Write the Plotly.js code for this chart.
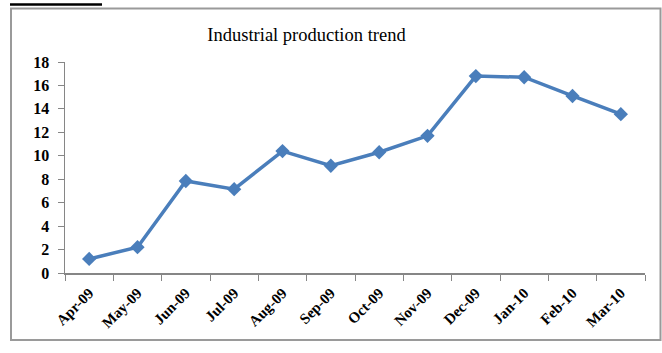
<!DOCTYPE html>
<html>
<head>
<meta charset="utf-8">
<script src="https://cdn.plot.ly/plotly-3.0.1.min.js"></script>
<style>html,body{margin:0;padding:0;background:#fff;}#chart{width:662px;height:353px;}</style>
</head>
<body>
<div id="chart"></div>
<script>
const months = ["Apr-09","May-09","Jun-09","Jul-09","Aug-09","Sep-09","Oct-09","Nov-09","Dec-09","Jan-10","Feb-10","Mar-10"];
const production = [1.2, 2.2, 7.85, 7.15, 10.4, 9.15, 10.3, 11.7, 16.8, 16.7, 15.1, 13.55];
const yTicks = [0, 2, 4, 6, 8, 10, 12, 14, 16, 18];

const W = 662, H = 353;
const L = 65, R = 17, T = 62, B = 80;
const pw = W - L - R, ph = H - T - B;
const px = x => (x - L) / pw;
const py = y => (H - B - y) / ph;

const SERIF = "Liberation Serif, Times New Roman, serif";

const trace = {
  x: months,
  y: production,
  type: "scatter",
  mode: "lines+markers",
  line: {color: "#4A7EBB", width: 3.5},
  marker: {symbol: "diamond", size: 11, color: "#4A7EBB"},
  hoverinfo: "skip"
};

const layout = {
  width: W, height: H,
  margin: {l: L, r: R, t: T, b: B, pad: 0},
  paper_bgcolor: "#fff",
  plot_bgcolor: "#fff",
  showlegend: false,
  font: {family: SERIF},
  title: {
    text: "Industrial production trend",
    font: {family: SERIF, size: 18.5, color: "#000"},
    xref: "paper", x: px(306.5), xanchor: "center",
    yref: "container", y: 1 - 35 / H, yanchor: "middle"
  },
  xaxis: {
    type: "category",
    tickson: "boundaries",
    ticks: "outside", ticklen: 6, tickcolor: "#868686", tickwidth: 1,
    showline: true, linecolor: "#868686", linewidth: 1.5,
    showgrid: false, zeroline: false,
    tickangle: -45,
    tickfont: {family: SERIF, size: 15, color: "#000", weight: "bold"},
    ticklabelstandoff: 4,
    range: [-0.5, months.length - 0.5],
    fixedrange: true
  },
  yaxis: {
    range: [0, 18],
    tickvals: yTicks,
    ticktext: yTicks.map(String),
    ticks: "outside", ticklen: 6, tickcolor: "#868686", tickwidth: 1,
    showline: true, linecolor: "#868686", linewidth: 1.5,
    showgrid: false, zeroline: false,
    tickfont: {family: SERIF, size: 16, color: "#000", weight: "bold"},
    ticklabelstandoff: 5,
    fixedrange: true
  },
  shapes: [
    {type: "rect", xref: "paper", yref: "paper",
     x0: px(11), x1: px(660.5), y0: py(340), y1: py(8.5),
     line: {color: "#9a9a9a", width: 2}, fillcolor: "rgba(0,0,0,0)", layer: "below"},
    {type: "line", xref: "paper", yref: "paper",
     x0: px(10), x1: px(102), y0: py(4.5), y1: py(4.5),
     line: {color: "#000", width: 2.5}}
  ]
};

Plotly.newPlot("chart", [trace], layout, {staticPlot: true, displayModeBar: false});
</script>
</body>
</html>
